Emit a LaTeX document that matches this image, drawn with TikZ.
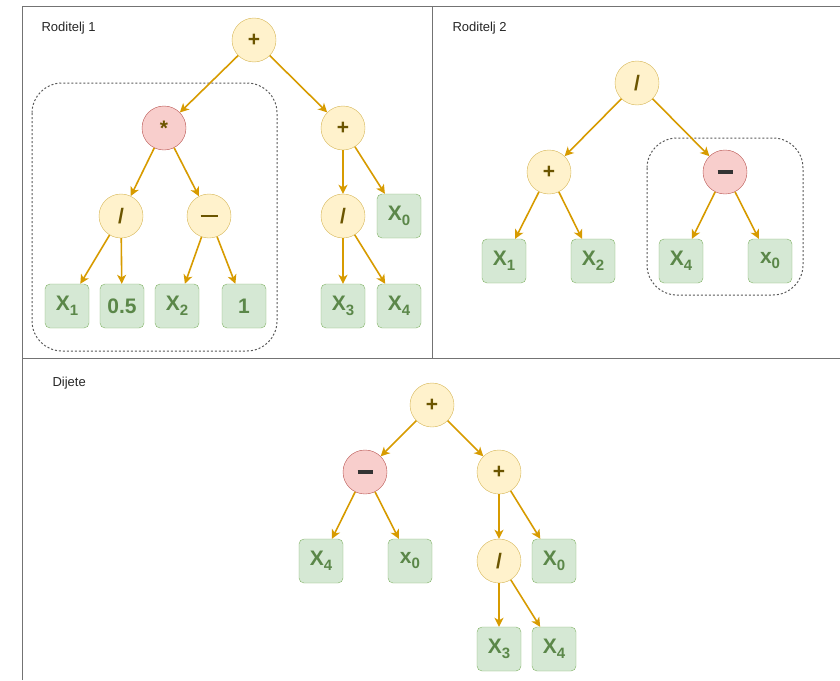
\documentclass[tikz,border=0pt]{standalone}
\usepackage{fontspec}
\setmainfont{Liberation Sans}
\usetikzlibrary{arrows.meta}

\definecolor{opfill}{HTML}{FFF2CC}
\definecolor{opline}{HTML}{D6B656}
\definecolor{cutfill}{HTML}{F8CECC}
\definecolor{cutline}{HTML}{B85450}
\definecolor{leaffill}{HTML}{D5E8D4}
\definecolor{leafline}{HTML}{82B366}
\definecolor{edgecol}{HTML}{D79B00}
\definecolor{optext}{HTML}{6B5500}
\definecolor{leaftext}{HTML}{5B8749}

% variable with index
\newcommand{\xs}[2]{#1\raisebox{-0.45ex}{\fontsize{15}{15}\selectfont #2}}
% minus signs, centred in the circle
\newcommand{\minusop}{\rule[-1pt]{17pt}{2pt}}
\newcommand{\minuscut}{\textcolor{black!80}{\rule[-2pt]{15pt}{4pt}}}

\tikzset{
  op/.style={circle,draw=opline,fill=opfill,minimum size=44pt,inner sep=0pt,
    font=\fontsize{21}{21}\selectfont\bfseries,text=optext},
  opcut/.style={op,draw=cutline,fill=cutfill},
  leaf/.style={rectangle,rounded corners=5pt,draw=leafline,fill=leaffill,
    minimum size=44pt,inner sep=0pt,font=\fontsize{21}{21}\selectfont\bfseries,text=leaftext},
  edgearrow/.style={draw=edgecol,line width=1.6pt,-{Stealth[length=9pt,width=9pt,inset=2.5pt]}},
  cutbox/.style={draw=black!65,dash pattern=on 2pt off 2pt,line width=1pt,rounded corners=30pt},
  frame/.style={draw=black!55,line width=1pt},
  title/.style={anchor=west,font=\fontsize{13}{13}\selectfont,text=black!85}
}

\begin{document}
\begin{tikzpicture}[x=1pt,y=-1pt]
		\useasboundingbox (0,0) rectangle (840,680);
		% frames
		\draw [frame] (22,680) -- (22,6) -- (840,6);
		\draw [frame] (432,6) -- (432,358);
		\draw [frame] (22,358) -- (840,358);
		\node [title] (t1) at (38,28) {Roditelj 1};
		\node [title] (t2) at (449,28) {Roditelj 2};
		\node [title] (t3) at (49,383) {Dijete};
		% dashed subtrees
		\draw [cutbox] (32,83) rectangle (277,351);
		\draw [cutbox] (647,138) rectangle (803,295);

		% Roditelj 1
		\node [op] (a) at (254,40) {+};
		\node [opcut] (am) at (164,128) {*};
		\node [op] (ap) at (343,128) {+};
		\node [op] (ad) at (121,216) {/};
		\node [op] (as) at (209,216) {\minusop};
		\node [op] (ad2) at (343,216) {/};
		\node [leaf] (ax0) at (399,216) {\xs{X}{0}};
		\node [leaf] (ax1) at (67,306) {\xs{X}{1}};
		\node [leaf] (ac) at (122,306) {0.5};
		\node [leaf] (ax2) at (177,306) {\xs{X}{2}};
		\node [leaf] (ao) at (244,306) {1};
		\node [leaf] (ax3) at (343,306) {\xs{X}{3}};
		\node [leaf] (ax4) at (399,306) {\xs{X}{4}};
		\draw [edgearrow] (a) -- (am);
		\draw [edgearrow] (a) -- (ap);
		\draw [edgearrow] (am) -- (ad);
		\draw [edgearrow] (am) -- (as);
		\draw [edgearrow] (ad) -- (ax1);
		\draw [edgearrow] (ad) -- (ac);
		\draw [edgearrow] (as) -- (ax2);
		\draw [edgearrow] (as) -- (ao);
		\draw [edgearrow] (ap) -- (ad2);
		\draw [edgearrow] (ap) -- (ax0);
		\draw [edgearrow] (ad2) -- (ax3);
		\draw [edgearrow] (ad2) -- (ax4);

		% Roditelj 2
		\node [op] (b) at (637,83) {/};
		\node [op] (bp) at (549,172) {+};
		\node [opcut] (bs) at (725,172) {\minuscut};
		\node [leaf] (bx1) at (504,261) {\xs{X}{1}};
		\node [leaf] (bx2) at (593,261) {\xs{X}{2}};
		\node [leaf] (bx4) at (681,261) {\xs{X}{4}};
		\node [leaf] (bx0) at (770,261) {\xs{x}{0}};
		\draw [edgearrow] (b) -- (bp);
		\draw [edgearrow] (b) -- (bs);
		\draw [edgearrow] (bp) -- (bx1);
		\draw [edgearrow] (bp) -- (bx2);
		\draw [edgearrow] (bs) -- (bx4);
		\draw [edgearrow] (bs) -- (bx0);

		% Dijete
		\node [op] (c) at (432,405) {+};
		\node [opcut] (cs) at (365,472) {\minuscut};
		\node [op] (cp) at (499,472) {+};
		\node [leaf] (cx4) at (321,561) {\xs{X}{4}};
		\node [leaf] (cx0) at (410,561) {\xs{x}{0}};
		\node [op] (cd) at (499,561) {/};
		\node [leaf] (cx0b) at (554,561) {\xs{X}{0}};
		\node [leaf] (cx3) at (499,649) {\xs{X}{3}};
		\node [leaf] (cx4b) at (554,649) {\xs{X}{4}};
		\draw [edgearrow] (c) -- (cs);
		\draw [edgearrow] (c) -- (cp);
		\draw [edgearrow] (cs) -- (cx4);
		\draw [edgearrow] (cs) -- (cx0);
		\draw [edgearrow] (cp) -- (cd);
		\draw [edgearrow] (cp) -- (cx0b);
		\draw [edgearrow] (cd) -- (cx3);
		\draw [edgearrow] (cd) -- (cx4b);
\end{tikzpicture}
\end{document}
